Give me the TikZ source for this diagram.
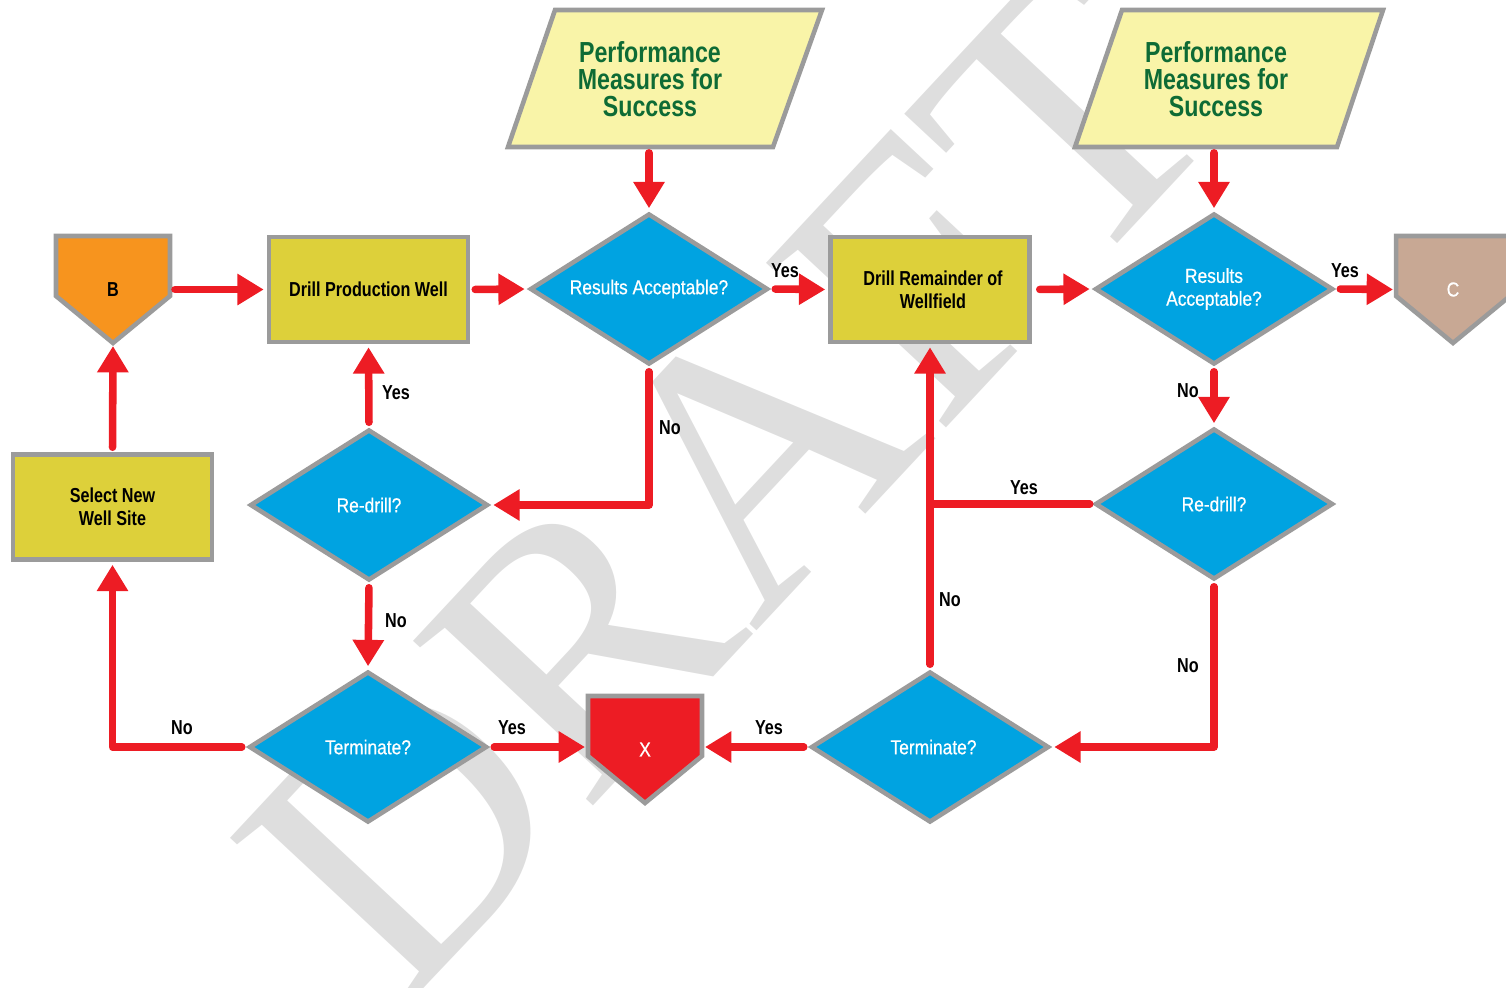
\documentclass[tikz,border=0pt]{standalone}
\usepackage{fontspec}
\setmainfont{Liberation Sans}
\newfontfamily\condB{Liberation Sans}[FakeStretch=0.8]
\newfontfamily\condR{Liberation Sans}[FakeStretch=0.86,FakeBold=0.6]
\newfontfamily\wmfont{Liberation Serif}
\usetikzlibrary{arrows.meta,shapes.geometric,calc}
\definecolor{bord}{HTML}{9B9B9B}
\definecolor{olive}{HTML}{DDD03A}
\definecolor{dblue}{HTML}{00A3E1}
\definecolor{fred}{HTML}{ED1C24}
\definecolor{borange}{HTML}{F7941E}
\definecolor{ctan}{HTML}{C8A894}
\definecolor{pyellow}{HTML}{F9F4A8}
\definecolor{pgreen}{HTML}{0E6B35}
\definecolor{wmgray}{HTML}{DEDEDE}
\begin{document}
\begin{tikzpicture}[x=0.02cm,y=-0.02cm,
  box/.style={draw=bord, line width=2.6pt, fill=olive, minimum width=3.98cm, minimum height=2.1cm, align=center, inner sep=2pt, font=\condB\bfseries\fontsize{11.5}{13}\selectfont},
  dia/.style={diamond, aspect=1.57, draw=bord, line width=2.6pt, fill=dblue, minimum width=4.76cm, minimum height=3.02cm, inner sep=0pt, align=center, text=white, font=\condR\fontsize{11.5}{13}\selectfont},
  para/.style={draw=bord, line width=2.6pt, fill=pyellow},
  ptext/.style={align=center, text=pgreen, font=\condB\bfseries\fontsize{16.5}{15.5}\selectfont, minimum height=2.74cm, inner sep=0pt},
  pentbox/.style={minimum width=2.28cm, minimum height=2.14cm, inner sep=0pt, outer sep=0pt},
  pent/.style={draw=bord, line width=2.6pt},
  penttext/.style={font=\condB\bfseries\fontsize{11.5}{13}\selectfont, inner sep=0pt},
  flowline/.style={draw=fred, line width=4.3pt, line cap=round, line join=round},
  flow/.style={flowline, -{Triangle[length=15pt,width=17pt]}, shorten <=0.1cm, shorten >=0.06cm},
  lbl/.style={font=\condB\bfseries\fontsize{11.5}{13}\selectfont, inner sep=0pt}
]
\clip (0,0) rectangle (1506,987);
% watermark
\node[font=\wmfont\fontsize{212}{212}\selectfont, text=wmgray, rotate=47, inner sep=0pt] (wm) at (728,482) {DRAFT};

% parallelograms
\path[para] (555,10) -- (822,10) -- (773,147) -- (508,147) -- cycle;
\node[ptext] (P1) at (650,79) {Performance\\Measures for\\Success};
\path[para] (1122,10) -- (1383,10) -- (1337,147) -- (1075,147) -- cycle;
\node[ptext] (P2) at (1216,79) {Performance\\Measures for\\Success};

% boxes
\node[box] (DPW) at (368.5,289.5) {Drill Production Well};
\node[box] (DRW) at (930,289.5) {\hspace*{0.12cm}Drill Remainder of\\\hspace*{0.12cm}Wellfield};
\node[box] (SN) at (112.5,507) {Select New\\Well Site};

% diamonds
\node[dia] (RA1) at (649,289) {Results Acceptable?};
\node[dia] (RA2) at (1214,289) {Results\\Acceptable?};
\node[dia] (RD1) at (369,505) {Re-drill?};
\node[dia] (RD2) at (1214,504) {Re-drill?};
\node[dia] (T1) at (368,747) {Terminate?};
\node[dia] (T2) at (930,747) {\hspace*{0.14cm}Terminate?};

% pentagons
\node[pentbox] (B) at (113,289.5) {};
\draw[pent, fill=borange] (B.north west) -- (B.north east) -- ($(B.north east)+(0,60)$) -- (B.south) -- ($(B.north west)+(0,60)$) -- cycle;
\node[penttext] (Bt) at (B) {B};
\node[pentbox] (C) at (1453,289.5) {};
\draw[pent, fill=ctan] (C.north west) -- (C.north east) -- ($(C.north east)+(0,60)$) -- (C.south) -- ($(C.north west)+(0,60)$) -- cycle;
\node[penttext, text=white, font=\condR\fontsize{11.5}{13}\selectfont] (Ct) at (C) {C};
\node[pentbox] (X) at (645,749.5) {};
\draw[pent, fill=fred] (X.north west) -- (X.north east) -- ($(X.north east)+(0,60)$) -- (X.south) -- ($(X.north west)+(0,60)$) -- cycle;
\node[penttext, text=white, font=\condR\fontsize{11.5}{13}\selectfont] (Xt) at (X) {X};

% connectors
\draw[flow] (B.east) -- (DPW.west);
\draw[flow] (DPW.east) -- (RA1.west);
\draw[flow] (RA1.east) -- (DRW.west);
\draw[flow, shorten <=0.16cm] (DRW.east) -- (RA2.west);
\draw[flow] (RA2.east) -- (C.west);
\draw[flow] (P1.south -| RA1.north) -- (RA1.north);
\draw[flow] (P2.south -| RA2.north) -- (RA2.north);
\draw[flow] (RA1.south) |- (RD1.east);
\draw[flow] (RD1.north) -- (DPW.south);
\draw[flow] (RD1.south) -- (T1.north);
\draw[flow] (T1.west) -| (SN.south);
\draw[flow] (SN.north) -- (B.south);
\draw[flow] (T1.east) -- (T1.east -| X.west);
\draw[flow] (T2.west) -- (T2.west -| X.east);
\draw[flow] (RA2.south) -- (RD2.north);
\draw[flowline, shorten <=0.06cm] (RD2.west) -- (RD2.west -| T2.north);
\draw[flow] (T2.north) -- (DRW.south);
\draw[flow] (RD2.south) |- (T2.east);

% labels
\node[lbl] (l1) at (785,271) {Yes};
\node[lbl] (l2) at (1345,271) {Yes};
\node[lbl] (l3) at (670,428) {No};
\node[lbl] (l4) at (396,393) {Yes};
\node[lbl] (l5) at (396,621) {No};
\node[lbl] (l6) at (182,728) {No};
\node[lbl] (l7) at (512,728) {Yes};
\node[lbl] (l8) at (769,728) {Yes};
\node[lbl] (l9) at (1188,391) {No};
\node[lbl] (l10) at (1024,488) {Yes};
\node[lbl] (l11) at (950,600) {No};
\node[lbl] (l12) at (1188,666) {No};
\end{tikzpicture}
\end{document}
